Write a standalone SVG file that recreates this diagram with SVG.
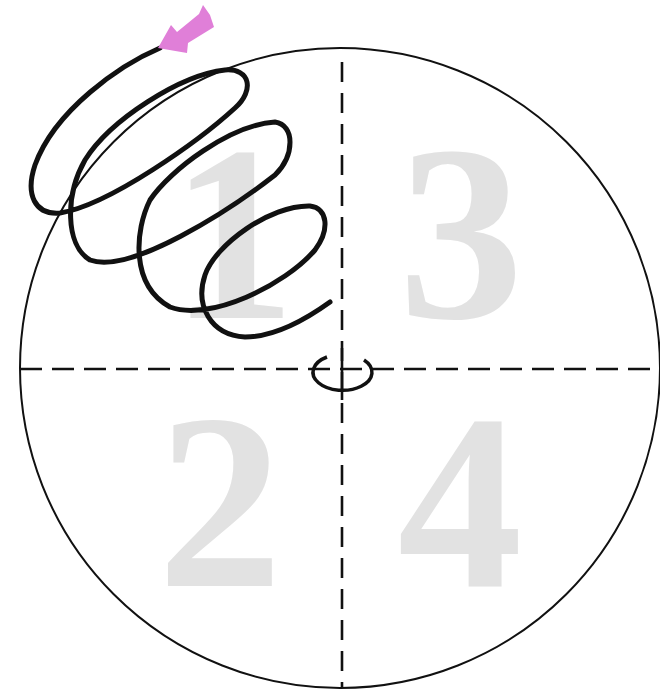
<svg xmlns="http://www.w3.org/2000/svg" width="660" height="693" viewBox="0 0 660 693">
<style>
.num{font-family:"Liberation Serif","Times New Roman",serif;font-weight:bold;font-size:250px;fill:#e2e2e2;text-anchor:middle}
.dash{stroke:#111;stroke-width:2.6;fill:none}
</style>
<rect width="660" height="693" fill="#ffffff"/>
<g id="quadrant-numbers">
<text id="n1" class="num" x="233" y="318">1</text>
<text id="n3" class="num" x="461" y="318">3</text>
<text id="n2" class="num" x="220" y="586">2</text>
<text id="n4" class="num" x="460" y="586">4</text>
</g>
<g id="circle">
<circle cx="340" cy="368" r="320" fill="none" stroke="#111" stroke-width="2"/>
</g>
<g id="axes">
<line class="dash" x1="20" y1="369" x2="660" y2="369" stroke-dasharray="22 10"/>
<line class="dash" x1="342" y1="62" x2="342" y2="688" stroke-dasharray="20 11"/>
<line class="dash" x1="342" y1="348" x2="342" y2="400"/>
</g>
<g id="center-mark">
<path d="M327,357 A29.5,18 0 1 0 364,360" fill="none" stroke="#111" stroke-width="3.5"/>
</g>
<g id="spiral">
<path fill="none" stroke="#111" stroke-width="5" stroke-linecap="round" d="M160,48 C120,65 55,110 35,165 C25,195 35,215 60,213 C110,205 200,140 235,108 C255,90 250,68 225,70 C180,75 110,120 85,160 C65,195 65,245 90,260 C130,275 230,210 275,175 C295,155 295,125 275,122 C230,125 170,170 150,200 C135,230 130,285 170,307 C210,322 285,285 315,250 C330,230 328,208 310,206 C270,205 215,245 205,275 C195,305 210,335 245,337 C275,337 305,320 330,302"/>
<polygon fill="#e07fd8" points="158,48 171,25 177,32 199,14 203,5 210,15 214,27 188,43 187,53"/>
</g>
</svg>
